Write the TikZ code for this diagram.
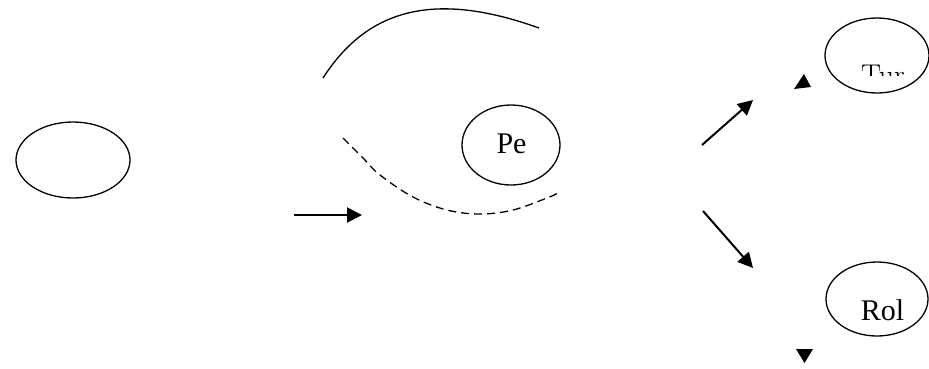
\documentclass[tikz,border=0pt]{standalone}
\usepackage{fontspec}
\newfontfamily\timesfont{Liberation Serif}
\usetikzlibrary{shapes.geometric,arrows.meta}
\tikzset{
  oval/.style={draw,ellipse,line width=1.3pt,inner sep=0pt},
  lbl/.style={font=\timesfont\fontsize{30}{34}\selectfont,inner sep=0pt},
  arr/.style={line width=2pt,-{Triangle[length=15pt,width=15pt]}},
  curve/.style={line width=1.3pt},
  dcurve/.style={line width=1.3pt,dash pattern=on 8pt off 5pt},
  head/.style={fill=black}
}
\begin{document}
\begin{tikzpicture}[x=1pt,y=-1pt]
\useasboundingbox (0,0) rectangle (929,368);
\begin{scope}
\clip (0,0) rectangle (929,368);
% ellipses
\node[oval,minimum width=114pt,minimum height=76pt] (left) at (73,160) {};
\node[oval,minimum width=98pt,minimum height=80pt] (pe) at (511,145) {};
\node[lbl,anchor=base] (petext) at (511.5,153) {Pe};
\node[oval,minimum width=104pt,minimum height=75pt] (tur) at (877,55.5) {};
\node[oval,minimum width=102pt,minimum height=74pt] (rol) at (877,299) {};
\node[lbl,anchor=base] (roltext) at (882.5,320) {Rol};
\end{scope}
\begin{scope}
\clip (800,0) rectangle (929,75);
\node[font=\fontsize{30}{34}\selectfont,inner sep=0pt,anchor=base] (turtext) at (883,85.5) {Tur};
\end{scope}
% arcs
\coordinate (ts) at (323,78);
\coordinate (te) at (539,28);
\draw[curve] (ts) .. controls (367.3,9.1) and (433.7,-9.8) .. (te);
\draw[dcurve] plot[smooth,tension=0.6] coordinates {(343,138) (363,158) (380,175) (413,197) (447,210) (480,214) (513,210) (547,198) (558,193)};
% arrows
\coordinate (a1s) at (294,215);
\coordinate (a1e) at (362,215);
\coordinate (a2s) at (702,145);
\coordinate (a2e) at (753,100);
\coordinate (a3s) at (703,211);
\coordinate (a3e) at (753,268);
\draw[arr] (a1s) -- (a1e);
\draw[arr] (a2s) -- (a2e);
\draw[arr] (a3s) -- (a3e);
% isolated heads
\fill[head] (794,89) -- (811,87) -- (804,74) -- cycle;
\fill[head] (796,349) -- (813,349) -- (804.5,363) -- cycle;
\end{tikzpicture}
\end{document}
